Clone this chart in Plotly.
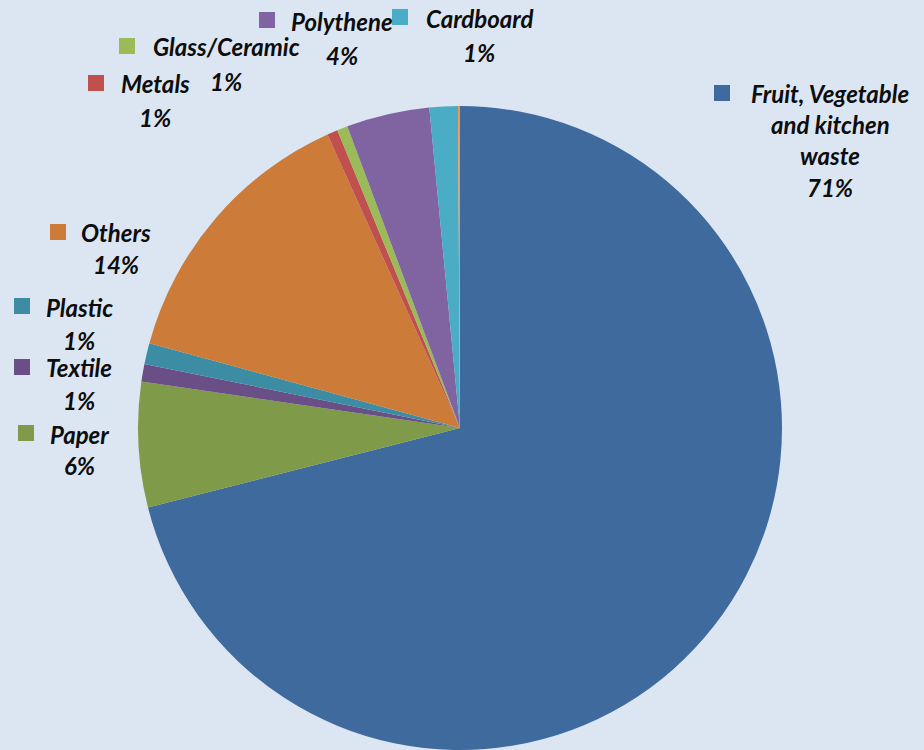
import plotly.graph_objects as go

# ---- data (clockwise from 12 o'clock) ----
categories = ["Fruit, Vegetable and kitchen waste", "Paper", "Textile", "Plastic", "Others",
              "Metals", "Glass/Ceramic", "Polythene", "Cardboard", "(unlabelled)"]
values = [71.02, 6.28, 0.88, 1.05, 14.01, 0.53, 0.53, 4.17, 1.42, 0.10]
colors = ["#3F6A9D", "#7F9A48", "#6A4F87", "#3C8DA3", "#CC7B38",
          "#C0504D", "#9BBB59", "#8064A2", "#4BACC6", "#F79646"]
# label line breaks as shown in the chart
label_lines = {
    "Fruit, Vegetable and kitchen waste": ["Fruit, Vegetable", "and kitchen", "waste"],
}

W, H = 924, 750
total = sum(values)

# label layout (pixel positions): square centre, text centre x, first line y, line spacing
label_pos = {
    "Fruit, Vegetable and kitchen waste": dict(sq=(722, 93), tx=830, ty=93, dy=31.5),
    "Others": dict(sq=(58, 232), tx=116, ty=232, dy=33),
    "Plastic": dict(sq=(22, 306), tx=79, ty=307, dy=33),
    "Textile": dict(sq=(22, 367), tx=79, ty=367, dy=33),
    "Paper": dict(sq=(26, 433), tx=79, ty=434, dy=32),
    "Metals": dict(sq=(96, 83), tx=155, ty=84, dy=33),
    "Glass/Ceramic": dict(sq=(127, 46), tx=226, ty=47, dy=35),
    "Polythene": dict(sq=(267, 20), tx=342, ty=22, dy=34),
    "Cardboard": dict(sq=(400, 17), tx=479, ty=18, dy=34),
}

cx, cy, r = 460, 428, 322

fig = go.Figure(go.Pie(
    labels=categories, values=values, sort=False, direction="clockwise", rotation=0,
    marker=dict(colors=colors, line=dict(width=0)),
    textinfo="none", hoverinfo="label+percent", showlegend=False,
    domain=dict(x=[(cx - r) / W, (cx + r) / W], y=[1 - (cy + r) / H, 1 - (cy - r) / H]),
))

font = dict(family="Lato, Carlito, Calibri, sans-serif", size=24, color="#0D0D0D")
annotations = []
shapes = []
for cat, val, col in zip(categories, values, colors):
    if cat not in label_pos:
        continue
    p = label_pos[cat]
    lines = label_lines.get(cat, [cat]) + [f"{round(val / total * 100)}%"]
    for i, ln in enumerate(lines):
        annotations.append(dict(
            x=p["tx"] / W, y=1 - (p["ty"] + i * p["dy"]) / H, xref="paper", yref="paper",
            text=f"<b><i>{ln}</i></b>", showarrow=False, xanchor="center", yanchor="middle",
            font=font))
    sx, sy = p["sq"]
    s = 8
    shapes.append(dict(type="rect", xref="paper", yref="paper",
                       x0=(sx - s) / W, x1=(sx + s) / W, y0=1 - (sy + s) / H, y1=1 - (sy - s) / H,
                       fillcolor=col, line=dict(width=0)))

fig.update_layout(
    width=W, height=H, margin=dict(l=0, r=0, t=0, b=0),
    paper_bgcolor="#DCE6F2", plot_bgcolor="#DCE6F2",
    annotations=annotations, shapes=shapes,
)

fig.write_html("out.html", config={"displayModeBar": False},
               post_script="document.body.style.margin='0';document.body.style.overflow='hidden';")
